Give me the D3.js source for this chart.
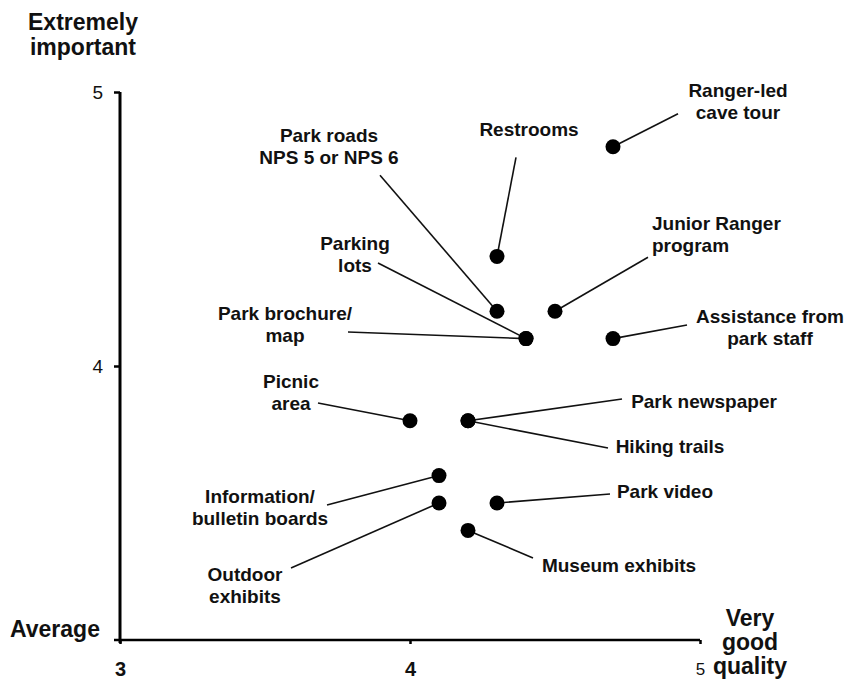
<!DOCTYPE html>
<html><head><meta charset="utf-8">
<script src="https://cdn.jsdelivr.net/npm/d3@7"></script>
<style>
html,body{margin:0;padding:0;background:#fff;}
svg{display:block;font-family:"Liberation Sans",Arial,sans-serif;}
</style></head><body>
<svg id="chart" width="849" height="686"></svg>
<script>
// ---- data ----
const items = ["Ranger-led|cave tour","Restrooms","Park roads|NPS 5 or NPS 6","Junior Ranger|program","Parking|lots","Park brochure/|map","Assistance from|park staff","Picnic|area","Park newspaper","Hiking trails","Information/|bulletin boards","Outdoor|exhibits","Park video","Museum exhibits"];
const quality    = [4.7, 4.3, 4.3, 4.5, 4.4, 4.4, 4.7, 4.0, 4.2, 4.2, 4.1, 4.1, 4.3, 4.2];
const importance = [4.8, 4.4, 4.2, 4.2, 4.1, 4.1, 4.1, 3.8, 3.8, 3.8, 3.6, 3.5, 3.5, 3.4];
const xTicks = [3, 4, 5];
const yTicks = [4, 5];
const yTitle = ["Extremely", "important"];
const yLow = "Average";
const xTitle = ["Very", "good", "quality"];

// ---- layout (label offsets from the dot, pixels) ----
// [textDx, firstBaselineDy, anchor, leaderDx, leaderDy]
const labelLayout = [
  [125, -50, "middle", 65, -33],
  [32, -120, "middle", 19, -99],
  [-168, -169, "middle", -117, -136],
  [97, -81, "start", 93, -54],
  [-171, -88.6, "middle", -148, -75.6],
  [-241, -18.6, "middle", -178, -6.6],
  [157, -15.6, "middle", 74, -13.6],
  [-119, -32.8, "middle", -92, -17.8],
  [236, -12.8, "middle", 154, -21.8],
  [202, 32.2, "middle", 140, 27.2],
  [-179, 27.4, "middle", -112, 29.4],
  [-194, 78, "middle", -148, 65],
  [168, -5, "middle", 113, -9],
  [151, 41.6, "middle", 65, 27.6]
];

const svg = d3.select("#chart");
const x = d3.scaleLinear().domain([3, 5]).range([120, 700]);
const y = d3.scaleLinear().domain([3, 5]).range([640, 92]);

// axes
const yAxis = svg.append("g").attr("transform", `translate(${x(3)},0)`)
  .call(d3.axisLeft(y).tickValues(yTicks).tickSize(6).tickSizeOuter(0).tickPadding(11).tickFormat(d3.format("d")));
yAxis.attr("font-size", null).attr("font-family", null);
yAxis.select(".domain").attr("stroke", "#000").attr("stroke-width", 3)
  .attr("d", `M0,${y(5)}V${y(3) + 3}`);
yAxis.selectAll(".tick line").attr("stroke", "#000").attr("stroke-width", 2.5);
yAxis.selectAll(".tick text").style("font-size", "19px").style("font-family", "Liberation Sans, Arial, sans-serif")
  .attr("fill", "#111").attr("dy", "0.36em");

const xAxis = svg.append("g").attr("transform", `translate(0,${y(3)})`)
  .call(d3.axisBottom(x).tickValues(xTicks).tickSize(4).tickSizeOuter(0).tickPadding(18).tickFormat(d3.format("d")));
xAxis.attr("font-size", null).attr("font-family", null);
xAxis.select(".domain").attr("stroke", "#000").attr("stroke-width", 2.5)
  .attr("d", `M${x(3) - 6},0H${x(5)}`);
xAxis.selectAll(".tick line").attr("stroke", "#000").attr("stroke-width", 2.5);
xAxis.selectAll(".tick text")
  .style("font-family", "Liberation Sans, Arial, sans-serif").attr("fill", "#111")
  .style("font-size", d => d === 5 ? "17px" : "20px")
  .style("font-weight", d => d === 5 ? "normal" : "bold")
  .attr("dy", d => d === 5 ? "0.74em" : "0.71em");

// titles
const tg = svg.append("g").style("font-weight", "bold").style("font-size", "23px").attr("fill", "#111");
tg.append("text").attr("text-anchor", "middle")
  .selectAll("tspan").data(yTitle).join("tspan")
  .attr("x", 83).attr("y", (d, i) => 30 + i * 25).text(d => d);
tg.append("text").attr("x", 10).attr("y", 637).text(yLow);
tg.append("text").attr("text-anchor", "middle")
  .selectAll("tspan").data(xTitle).join("tspan")
  .attr("x", 750).attr("y", (d, i) => 626 + i * 24).text(d => d);

// points data
const pts = items.map((name, i) => ({name, q: quality[i], imp: importance[i], lay: labelLayout[i]}));

// leader lines
svg.append("g").selectAll("line").data(pts).join("line")
  .attr("x1", d => x(d.q) + d.lay[3]).attr("y1", d => y(d.imp) + d.lay[4])
  .attr("x2", d => x(d.q)).attr("y2", d => y(d.imp))
  .attr("stroke", "#111").attr("stroke-width", 1.6);

// dots
svg.append("g").selectAll("circle").data(pts).join("circle")
  .attr("cx", d => x(d.q)).attr("cy", d => y(d.imp)).attr("r", 7.5).attr("fill", "#000");

// labels
const lg = svg.append("g").style("font-weight", "bold").style("font-size", "19px").attr("fill", "#111");
pts.forEach(d => {
  const t = lg.append("text").attr("text-anchor", d.lay[2]);
  d.name.split("|").forEach((line, j) => {
    t.append("tspan").attr("x", x(d.q) + d.lay[0]).attr("y", y(d.imp) + d.lay[1] + j * 22).text(line);
  });
});
</script>
</body></html>
